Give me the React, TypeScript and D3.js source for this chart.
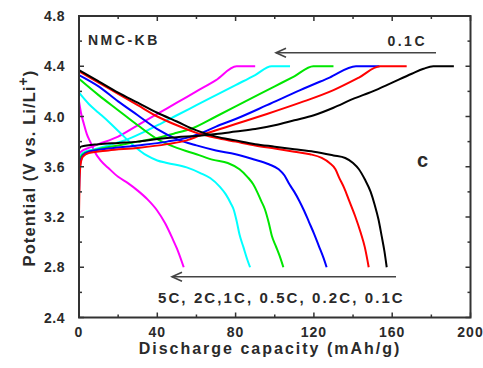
import React from "react";
import * as d3 from "d3";

// ---------- data ----------
const rateLabels = ["0.1C", "0.2C", "0.5C", "1C", "2C", "5C"];
const seriesColors = ["#000000", "#ff0000", "#0000ff", "#00e600", "#00ffff", "#ff00ff"];

const xTicks = [0, 40, 80, 120, 160, 200];
const yTicks = [2.4, 2.8, 3.2, 3.6, 4.0, 4.4, 4.8];

// discharge curves [capacity, potential]
const discharge01C: [number, number][] = [[0,4.37],[10,4.28],[20,4.19],[30,4.11],[40,4.03],[50,3.96],[60,3.89],[70,3.84],[80,3.81],[90,3.78],[100,3.76],[110,3.74],[120,3.72],[130,3.69],[136,3.67],[140,3.63],[143,3.58],[146,3.5],[149,3.4],[151,3.3],[153,3.18],[154.6,3.05],[156,2.93],[157.2,2.8]];
const discharge02C: [number, number][] = [[0,4.36],[10,4.27],[20,4.18],[30,4.09],[40,4.0],[50,3.93],[60,3.87],[70,3.83],[80,3.8],[90,3.77],[100,3.745],[110,3.72],[118,3.7],[124,3.67],[128,3.63],[131,3.58],[133,3.51],[135.5,3.43],[138,3.33],[141,3.21],[144,3.07],[146,2.96],[148,2.8]];
const discharge05C: [number, number][] = [[0,4.33],[10,4.24],[20,4.12],[30,4.01],[40,3.9],[50,3.82],[60,3.77],[70,3.73],[80,3.7],[89,3.66],[97,3.62],[102,3.58],[105,3.53],[107.5,3.46],[110,3.4],[112.5,3.33],[115,3.25],[117.5,3.16],[120,3.07],[122.5,2.97],[125,2.87],[126.5,2.8]];
const discharge1C: [number, number][] = [[0,4.3],[10,4.17],[20,4.05],[30,3.93],[40,3.82],[50,3.75],[60,3.7],[68.6,3.655],[76,3.63],[82,3.58],[86,3.52],[89,3.46],[91,3.4],[93,3.33],[95,3.26],[97,3.15],[98.5,3.05],[100.5,2.97],[102.5,2.89],[104.4,2.8]];
const discharge2C: [number, number][] = [[0,4.19],[5,4.1],[10,4.03],[15,3.96],[21,3.87],[27.8,3.77],[34.6,3.69],[40,3.65],[45,3.63],[55,3.595],[62,3.55],[67,3.51],[72,3.44],[75,3.38],[77.5,3.31],[79,3.26],[80.5,3.17],[82,3.06],[84,2.96],[86,2.86],[87.4,2.8]];
const discharge5C: [number, number][] = [[0,4.12],[1,4.03],[2.5,3.94],[4,3.86],[6,3.79],[8,3.72],[11,3.65],[15,3.59],[20,3.52],[25,3.47],[30,3.41],[35,3.34],[40,3.25],[44,3.15],[48,3.02],[50,2.95],[53.5,2.8]];

// charge curves [capacity, potential]
const charge01C: [number, number][] = [[0,3.74],[1,3.76],[10,3.78],[20,3.79],[30,3.8],[40,3.82],[50,3.835],[60,3.845],[70,3.86],[80,3.88],[90,3.9],[100,3.93],[110,3.97],[120,4.01],[130,4.07],[140,4.14],[150,4.2],[160,4.27],[170,4.34],[176,4.38],[181,4.4],[191.5,4.4]];
const charge02C: [number, number][] = [[0,3.22],[0.3,3.5],[0.8,3.62],[2,3.68],[5,3.71],[15,3.73],[30,3.75],[45,3.78],[55,3.81],[62,3.85],[70,3.89],[80,3.94],[96,4.02],[113,4.11],[130,4.21],[143,4.31],[153.8,4.4],[167.4,4.4]];
const charge05C: [number, number][] = [[0,3.38],[0.3,3.55],[0.8,3.64],[2,3.69],[5,3.72],[15,3.745],[30,3.77],[45,3.8],[55,3.83],[62,3.865],[70,3.92],[80,3.98],[96,4.09],[113,4.21],[128,4.31],[141.5,4.4],[153.5,4.4]];
const charge1C: [number, number][] = [[0,3.55],[0.3,3.62],[1,3.68],[3,3.71],[10,3.74],[20,3.77],[30,3.8],[40,3.83],[50,3.87],[57,3.9],[70,4.0],[85,4.12],[100,4.24],[110,4.32],[119.7,4.4],[130,4.4]];
const charge2C: [number, number][] = [[0,3.62],[0.5,3.68],[2,3.71],[8,3.74],[15,3.77],[25,3.82],[35,3.89],[41.4,3.94],[50,4.01],[60,4.09],[70,4.17],[80,4.25],[90,4.33],[98.4,4.4],[107.8,4.4]];
const charge5C: [number, number][] = [[0,3.7],[1,3.72],[5,3.75],[10,3.78],[20,3.84],[30,3.93],[40,4.02],[50,4.11],[60,4.2],[70,4.29],[80.5,4.4],[90,4.4]];

const dischargeSeries = [discharge01C, discharge02C, discharge05C, discharge1C, discharge2C, discharge5C];
const chargeSeries = [charge01C, charge02C, charge05C, charge1C, charge2C, charge5C];

// ---------- chart ----------
const W = 483;
const H = 368;
const FONT = "'Liberation Sans', Arial, sans-serif";
const INK = "#2a2a2a";

export default function App() {
  const x = d3.scaleLinear().domain([0, 200]).range([79, 470.5]);
  const y = d3.scaleLinear().domain([2.4, 4.8]).range([317.5, 16]);
  const line = d3
    .line<[number, number]>()
    .x((d) => x(d[0]))
    .y((d) => y(d[1]))
    .curve(d3.curveMonotoneX);

  const xMinor = d3.range(0, 201, 20);
  const yMinor = d3.range(2.4, 4.81, 0.2).map((v) => Math.round(v * 10) / 10);
  const isMajorX = (v: number) => v % 40 === 0;
  const isMajorY = (v: number) => Math.abs(Math.round(v * 10) % 4) === 0;

  const [x0, x1] = x.range();
  const [y0, y1] = y.range();

  const order = [5, 4, 3, 2, 1, 0];

  const arrow = (xs: number, xe: number, yy: number) => (
    <g stroke="#444" strokeWidth={1.6} fill="none">
      <line x1={xs} x2={xe} y1={yy} y2={yy} />
      <path d={`M${xe + 10},${yy - 4.5} L${xe},${yy} L${xe + 10},${yy + 4.5}`} />
    </g>
  );

  return (
    <svg width={W} height={H} style={{ position: "absolute", left: 0, top: 0, background: "#fff" }} fontFamily={FONT}>
      <rect x={0} y={0} width={W} height={H} fill="#fff" />
      {/* curves */}
      <g fill="none" strokeWidth={2} strokeLinejoin="round">
        {order.map((i) => (
          <g key={rateLabels[i]}>
            <path d={line(chargeSeries[i]) || ""} stroke={seriesColors[i]} />
            <path d={line(dischargeSeries[i]) || ""} stroke={seriesColors[i]} />
          </g>
        ))}
      </g>

      {/* frame */}
      <rect x={x0} y={y1} width={x1 - x0} height={y0 - y1} fill="none" stroke="#333" strokeWidth={2} />

      {/* ticks */}
      <g stroke="#333" strokeWidth={1.5}>
        {xMinor.map((v) => {
          const len = isMajorX(v) ? 5 : 3;
          return (
            <g key={"xt" + v}>
              <line x1={x(v)} x2={x(v)} y1={y0} y2={y0 - len} />
              <line x1={x(v)} x2={x(v)} y1={y1} y2={y1 + len} />
            </g>
          );
        })}
        {yMinor.map((v) => {
          const len = isMajorY(v) ? 5 : 3;
          return (
            <g key={"yt" + v}>
              <line x1={x0} x2={x0 + len} y1={y(v)} y2={y(v)} />
              <line x1={x1} x2={x1 - len} y1={y(v)} y2={y(v)} />
            </g>
          );
        })}
      </g>

      {/* tick labels */}
      <g fontWeight="bold" fontSize={14} fill={INK}>
        {xTicks.map((v) => (
          <text key={"xl" + v} x={x(v)} y={337} textAnchor="middle" letterSpacing={1}>
            {v}
          </text>
        ))}
        {yTicks.map((v) => (
          <text key={"yl" + v} x={65} y={y(v) + 5} textAnchor="end" letterSpacing={0.5}>
            {v.toFixed(1)}
          </text>
        ))}
      </g>

      {/* axis titles */}
      <text x={270} y={354} textAnchor="middle" fontWeight="bold" fontSize={16} fill={INK} letterSpacing={2}>
        Discharge capacity (mAh/g)
      </text>
      <text
        transform={`translate(35,168) rotate(-90)`}
        textAnchor="middle"
        fontWeight="bold"
        fontSize={16.5}
        fill={INK}
        letterSpacing={1.1}
      >
        Potential (V vs. Li/Li
        <tspan dy={-7} fontSize={14}>+</tspan>
        <tspan dy={7}>)</tspan>
      </text>

      {/* annotations */}
      <text x={88} y={45} fontWeight="bold" fontSize={14} fill={INK} letterSpacing={2.5}>
        NMC-KB
      </text>
      <text x={427} y={46} textAnchor="end" fontWeight="bold" fontSize={14} fill={INK} letterSpacing={2.5}>
        {rateLabels[0]}
      </text>
      {arrow(436, 276, 52.7)}
      {arrow(396, 172, 276.7)}
      <text x={158} y={303} fontWeight="bold" fontSize={15} fill={INK} letterSpacing={2.1}>
        {[...rateLabels].reverse().join(", ").replace("2C, 1C", "2C,1C")}
      </text>
      <text x={417} y={167} fontWeight="bold" fontSize={20} fill={INK}>
        c
      </text>
    </svg>
  );
}
